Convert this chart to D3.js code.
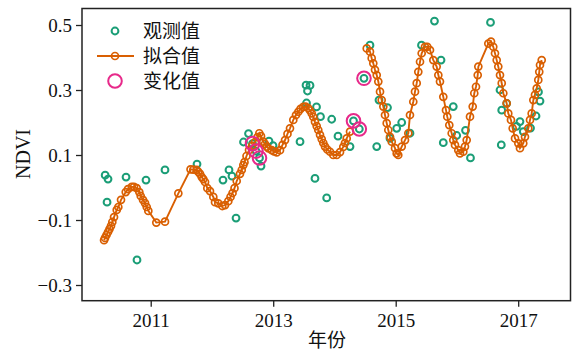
<!DOCTYPE html>
<html>
<head>
<meta charset="utf-8">
<script src="https://cdn.jsdelivr.net/npm/d3@7"></script>
<style>
  html, body { margin: 0; padding: 0; background: #fff; }
  svg { display: block; }
</style>
</head>
<body>
<svg id="chart" width="572" height="351"></svg>
<script>
// NDVI time series: observations, harmonic fit (two segments split at a break), and change points
const obsYear = [2010.256, 2010.287, 2010.303, 2010.597, 2010.776, 2010.923, 2011.233, 2011.756,
  2012.180, 2012.278, 2012.327, 2012.393, 2012.515, 2012.597, 2012.662, 2012.719, 2012.776, 2012.801,
  2012.931, 2012.997, 2013.438, 2013.536, 2013.544, 2013.560, 2013.601, 2013.682, 2013.707, 2013.772,
  2013.873, 2013.955, 2014.058, 2014.254, 2014.311, 2014.406, 2014.482, 2014.580, 2014.690, 2014.727,
  2014.866, 2014.907, 2015.016, 2015.098, 2015.233, 2015.421, 2015.633, 2015.740, 2015.777, 2015.940,
  2015.996, 2016.140, 2016.221, 2016.548, 2016.703, 2016.724, 2016.731, 2016.812, 2016.972, 2017.029,
  2017.083, 2017.201, 2017.291, 2017.331, 2017.356];
const obsNdvi = [0.038, -0.045, 0.026, 0.032, -0.223, 0.023, 0.054, 0.072,
  0.023, 0.054, 0.035, -0.094, 0.140, 0.166, 0.135, 0.112, 0.091, 0.066,
  0.143, 0.129, 0.141, 0.315, 0.260, 0.297, 0.314, 0.028, 0.248, 0.218,
  -0.032, 0.210, 0.158, 0.126, 0.205, 0.180, 0.336, 0.438, 0.126, 0.269,
  0.246, 0.151, 0.182, 0.200, 0.167, 0.438, 0.512, 0.392, 0.138, 0.249,
  0.160, 0.176, 0.091, 0.508, 0.300, 0.131, 0.238, 0.259, 0.188, 0.203,
  0.172, 0.183, 0.220, 0.294, 0.266];

// fitted values, first segment (before the break)
const fitYearA = [2010.238, 2010.254, 2010.278, 2010.303, 2010.327, 2010.352, 2010.373, 2010.401,
  2010.445, 2010.471, 2010.515, 2010.592, 2010.629, 2010.690, 2010.727, 2010.771, 2010.814, 2010.837,
  2010.874, 2010.907, 2010.935, 2010.961, 2011.091, 2011.233, 2011.451, 2011.650, 2011.696, 2011.751,
  2011.777, 2011.805, 2011.833, 2011.859, 2011.887, 2011.924, 2011.968, 2012.022, 2012.050, 2012.104,
  2012.169, 2012.213, 2012.267, 2012.303, 2012.336, 2012.368, 2012.404, 2012.458, 2012.486, 2012.512,
  2012.531, 2012.564, 2012.605, 2012.654, 2012.703, 2012.744, 2012.773, 2012.801, 2012.838, 2012.866,
  2012.894, 2012.923, 2012.976, 2013.013, 2013.057, 2013.111, 2013.152, 2013.193, 2013.233, 2013.274,
  2013.328, 2013.372, 2013.410, 2013.446, 2013.491, 2013.527, 2013.573, 2013.601, 2013.629, 2013.655,
  2013.682, 2013.710, 2013.736, 2013.764, 2013.792, 2013.818, 2013.846, 2013.883, 2013.927, 2013.981,
  2014.037, 2014.091, 2014.144, 2014.172, 2014.200, 2014.254];
const fitNdviA = [-0.162, -0.155, -0.146, -0.137, -0.128, -0.118, -0.106, -0.091,
  -0.069, -0.060, -0.038, -0.014, -0.005, 0.002, 0.002, -0.002, -0.014, -0.026,
  -0.038, -0.048, -0.060, -0.072, -0.108, -0.105, -0.018, 0.056, 0.055, 0.054,
  0.048, 0.042, 0.032, 0.026, 0.017, -0.002, -0.011, -0.029, -0.045, -0.049,
  -0.057, -0.054, -0.042, -0.029, -0.017, -0.002, 0.020, 0.042, 0.054, 0.069,
  0.078, 0.097, 0.115, 0.128, 0.140, 0.155, 0.167, 0.158, 0.141, 0.134,
  0.126, 0.120, 0.115, 0.111, 0.108, 0.115, 0.131, 0.146, 0.165, 0.182,
  0.208, 0.223, 0.233, 0.242, 0.248, 0.249, 0.244, 0.237, 0.228, 0.217,
  0.202, 0.189, 0.177, 0.162, 0.149, 0.137, 0.126, 0.117, 0.110, 0.100,
  0.100, 0.109, 0.125, 0.137, 0.151, 0.172];

// fitted values, second segment (after the break)
const fitYearB = [2014.527, 2014.580, 2014.608, 2014.634, 2014.662, 2014.690, 2014.716, 2014.744,
  2014.771, 2014.798, 2014.825, 2014.853, 2014.879, 2014.907, 2014.935, 2014.989, 2015.016, 2015.042,
  2015.098, 2015.152, 2015.206, 2015.233, 2015.287, 2015.315, 2015.343, 2015.369, 2015.397, 2015.424,
  2015.478, 2015.516, 2015.560, 2015.614, 2015.669, 2015.696, 2015.723, 2015.777, 2015.821, 2015.842,
  2015.875, 2015.914, 2015.940, 2015.968, 2016.022, 2016.050, 2016.104, 2016.131, 2016.159, 2016.213,
  2016.257, 2016.283, 2016.311, 2016.339, 2016.349, 2016.512, 2016.556, 2016.593, 2016.621, 2016.649,
  2016.675, 2016.703, 2016.731, 2016.757, 2016.812, 2016.838, 2016.882, 2016.910, 2016.948, 2017.002,
  2017.029, 2017.083, 2017.111, 2017.165, 2017.193, 2017.220, 2017.247, 2017.274, 2017.302, 2017.328,
  2017.344, 2017.356, 2017.384];
const fitNdviB = [0.428, 0.418, 0.398, 0.382, 0.362, 0.346, 0.326, 0.295,
  0.269, 0.249, 0.223, 0.198, 0.177, 0.156, 0.141, 0.121, 0.105, 0.100,
  0.126, 0.146, 0.167, 0.223, 0.264, 0.295, 0.321, 0.356, 0.387, 0.413,
  0.433, 0.433, 0.423, 0.392, 0.372, 0.346, 0.326, 0.279, 0.238, 0.218,
  0.192, 0.167, 0.146, 0.131, 0.115, 0.105, 0.110, 0.126, 0.146, 0.218,
  0.249, 0.290, 0.310, 0.346, 0.372, 0.443, 0.449, 0.433, 0.413, 0.392,
  0.372, 0.346, 0.321, 0.290, 0.259, 0.228, 0.208, 0.182, 0.151, 0.136,
  0.121, 0.136, 0.156, 0.182, 0.208, 0.228, 0.269, 0.285, 0.305, 0.331,
  0.356, 0.377, 0.392];

// detected change points
const chgYear = [2012.662, 2012.719, 2012.776, 2014.311, 2014.406, 2014.482];
const chgNdvi = [0.135, 0.112, 0.091, 0.205, 0.180, 0.336];

const xTicks = [2011, 2013, 2015, 2017];
const yTicks = [-0.3, -0.1, 0.1, 0.3, 0.5];
const legendLabels = ["观测值", "拟合值", "变化值"];

const colObs = "#1b9e77", colFit = "#d95f02", colChg = "#e7298a";
const numFont = "'Liberation Serif', 'Times New Roman', serif";
const cjkFont = "'Noto Sans CJK SC', sans-serif";

const svg = d3.select("#chart");
const m = { left: 82, top: 8.5, right: 570.5, bottom: 300.7 };

const x = d3.scaleLinear().domain([2009.878, 2017.854]).range([m.left, m.right]);
const y = d3.scaleLinear().domain([-0.3483, 0.5508]).range([m.bottom, m.top]);

const zip = (a, b) => a.map((t, i) => ({ t, v: b[i] }));
const obs = zip(obsYear, obsNdvi);
const fitA = zip(fitYearA, fitNdviA);
const fitB = zip(fitYearB, fitNdviB);
const chg = zip(chgYear, chgNdvi);

// axes
const xAxis = svg.append("g")
  .attr("transform", `translate(0,${m.bottom})`)
  .call(d3.axisBottom(x).tickValues(xTicks).tickFormat(d3.format("d")).tickSize(6).tickSizeOuter(0));
const yAxis = svg.append("g")
  .attr("transform", `translate(${m.left},0)`)
  .call(d3.axisLeft(y).tickValues(yTicks).tickFormat(d3.format(".1f")).tickSize(6).tickSizeOuter(0));

[xAxis, yAxis].forEach(g => {
  g.select(".domain").remove();
  g.selectAll(".tick line").attr("stroke", "#222").attr("stroke-width", 1.3);
  g.selectAll(".tick text").attr("fill", "#111").style("font-family", numFont).style("font-size", "19px");
});
xAxis.selectAll(".tick text").attr("dy", "0.95em").attr("y", 8);
yAxis.selectAll(".tick text").attr("x", -10).attr("dy", "0.34em");

// frame
svg.append("rect")
  .attr("x", m.left).attr("y", m.top)
  .attr("width", m.right - m.left).attr("height", m.bottom - m.top)
  .attr("fill", "none").attr("stroke", "#222").attr("stroke-width", 1.5);

// axis titles
svg.append("text")
  .attr("transform", `translate(30,154) rotate(-90)`)
  .attr("text-anchor", "middle")
  .style("font-family", numFont).style("font-size", "20px").attr("fill", "#111")
  .text("NDVI");
svg.append("text")
  .attr("x", 327).attr("y", 347)
  .attr("text-anchor", "middle")
  .style("font-family", cjkFont).style("font-size", "19px").attr("fill", "#111")
  .text("年份");

// observations
svg.append("g").selectAll("circle").data(obs).join("circle")
  .attr("cx", d => x(d.t)).attr("cy", d => y(d.v)).attr("r", 3.4)
  .attr("fill", "none").attr("stroke", colObs).attr("stroke-width", 2);

// fitted segments
const line = d3.line().x(d => x(d.t)).y(d => y(d.v));
[fitA, fitB].forEach(seg => {
  svg.append("path").datum(seg).attr("d", line)
    .attr("fill", "none").attr("stroke", colFit).attr("stroke-width", 1.9);
  svg.append("g").selectAll("circle").data(seg).join("circle")
    .attr("cx", d => x(d.t)).attr("cy", d => y(d.v)).attr("r", 3.5)
    .attr("fill", "none").attr("stroke", colFit).attr("stroke-width", 1.7);
});

// change points
svg.append("g").selectAll("circle").data(chg).join("circle")
  .attr("cx", d => x(d.t)).attr("cy", d => y(d.v)).attr("r", 6.8)
  .attr("fill", "none").attr("stroke", colChg).attr("stroke-width", 2);

// legend
const lg = svg.append("g");
const rowY = [31, 56, 81];
lg.append("circle").attr("cx", 115).attr("cy", rowY[0]).attr("r", 3.4)
  .attr("fill", "none").attr("stroke", colObs).attr("stroke-width", 2);
lg.append("line").attr("x1", 97).attr("x2", 134).attr("y1", rowY[1]).attr("y2", rowY[1])
  .attr("stroke", colFit).attr("stroke-width", 1.9);
lg.append("circle").attr("cx", 115).attr("cy", rowY[1]).attr("r", 3.5)
  .attr("fill", "none").attr("stroke", colFit).attr("stroke-width", 1.7);
lg.append("circle").attr("cx", 115).attr("cy", rowY[2]).attr("r", 6.8)
  .attr("fill", "none").attr("stroke", colChg).attr("stroke-width", 2);
lg.selectAll("text").data(legendLabels).join("text")
  .attr("x", 143).attr("y", (d, i) => rowY[i]).attr("dy", "0.36em")
  .style("font-family", cjkFont).style("font-size", "19px").attr("fill", "#111")
  .text(d => d);
</script>
</body>
</html>
